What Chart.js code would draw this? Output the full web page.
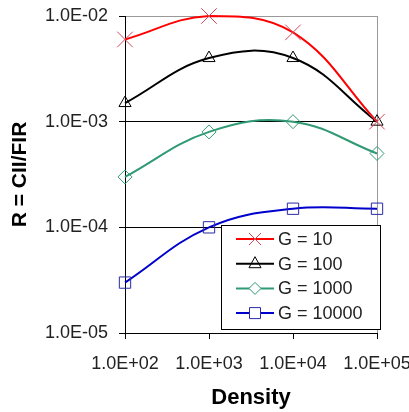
<!DOCTYPE html>
<html lang="en">
<head>
  <meta charset="UTF-8">
  <title>R = CII/FIR vs Density</title>
  <script src="https://cdn.jsdelivr.net/npm/chart.js"></script>
  <style>
    body { margin: 0; background: #fff; }
  </style>
</head>
<body>
  <div style="width: 409px; height: 412px;">
    <canvas id="ratioChart"></canvas>
  </div>

  <script>
    // densities on the x axis
    const density = [1e2, 1e3, 1e4, 1e5];

    // R = CII/FIR for each G value
    const g10 = [6e-3, 1e-2, 7e-3, 1e-3];
    const g100 = [1.5e-3, 4e-3, 4e-3, 1e-3];
    const g1000 = [3e-4, 8e-4, 1e-3, 5e-4];
    const g10000 = [3e-5, 1e-4, 1.5e-4, 1.5e-4];

    const seriesLabels = ['G = 10', 'G = 100', 'G = 1000', 'G = 10000'];

    const xTickValues = [1e2, 1e3, 1e4, 1e5];
    const xTickLabels = ['1.0E+02', '1.0E+03', '1.0E+04', '1.0E+05'];
    const yTickValues = [1e-5, 1e-4, 1e-3, 1e-2];
    const yTickLabels = ['1.0E-05', '1.0E-04', '1.0E-03', '1.0E-02'];

    const font = "'Liberation Sans', Arial, sans-serif";

    function toPoints(ys) {
      return density.map((x, i) => ({ x: x, y: ys[i] }));
    }

    const styles = [
      { line: '#ff0000', mark: '#d2485a', shape: 'crossRot', r: 11 },
      { line: '#000000', mark: '#000000', shape: 'triangle', r: 7 },
      { line: '#2f9a73', mark: '#2f9a73', shape: 'rectRot', r: 7 },
      { line: '#0000cc', mark: '#2a2aa8', shape: 'rect', r: 8 }
    ];

    const datasets = [g10, g100, g1000, g10000].map((ys, i) => ({
      label: seriesLabels[i],
      data: toPoints(ys),
      borderColor: styles[i].line,
      borderWidth: 2,
      tension: 0.4,
      pointStyle: styles[i].shape,
      pointRadius: styles[i].r,
      pointBorderColor: styles[i].mark,
      pointBackgroundColor: 'rgba(0,0,0,0)',
      pointBorderWidth: 1,
      clip: false
    }));

    // legend box drawn inside the plot, like the Excel one
    function drawMarker(ctx, shape, x, y, color) {
      ctx.save();
      ctx.strokeStyle = color;
      ctx.fillStyle = '#fff';
      ctx.lineWidth = 1;
      ctx.beginPath();
      if (shape === 'crossRot') {
        ctx.moveTo(x - 6, y - 6); ctx.lineTo(x + 6, y + 6);
        ctx.moveTo(x + 6, y - 6); ctx.lineTo(x - 6, y + 6);
        ctx.stroke();
      } else if (shape === 'triangle') {
        ctx.moveTo(x, y - 7); ctx.lineTo(x + 6, y + 4); ctx.lineTo(x - 6, y + 4);
        ctx.closePath(); ctx.stroke();
      } else if (shape === 'rectRot') {
        ctx.moveTo(x, y - 6); ctx.lineTo(x + 6, y); ctx.lineTo(x, y + 6); ctx.lineTo(x - 6, y);
        ctx.closePath(); ctx.fill(); ctx.stroke();
      } else {
        ctx.rect(x - 5.5, y - 5.5, 11, 11); ctx.fill(); ctx.stroke();
      }
      ctx.restore();
    }

    const boxLegend = {
      id: 'boxLegend',
      afterDraw(chart) {
        const ctx = chart.ctx;
        const left = 221, top = 225, w = 159, h = 104;
        ctx.save();
        ctx.fillStyle = '#fff';
        ctx.fillRect(left, top, w, h);
        ctx.strokeStyle = '#000';
        ctx.lineWidth = 1;
        ctx.strokeRect(left + 0.5, top + 0.5, w, h);
        ctx.font = '18px ' + font;
        ctx.textBaseline = 'middle';
        chart.data.datasets.forEach((ds, i) => {
          const y = 239 + i * 24.7;
          ctx.strokeStyle = ds.borderColor;
          ctx.lineWidth = 2;
          ctx.beginPath();
          ctx.moveTo(236, y);
          ctx.lineTo(274, y);
          ctx.stroke();
          drawMarker(ctx, ds.pointStyle, 255, y, ds.pointBorderColor);
          ctx.fillStyle = '#222';
          ctx.fillText(ds.label, 278, y + 1);
        });
        ctx.restore();
      }
    };

    new Chart(document.getElementById('ratioChart'), {
      type: 'line',
      data: { datasets: datasets },
      plugins: [boxLegend],
      options: {
        responsive: true,
        maintainAspectRatio: false,
        animation: false,
        layout: { padding: { top: 16, right: 32, bottom: 0, left: 0 } },
        plugins: {
          legend: { display: false },
          tooltip: { enabled: false }
        },
        scales: {
          x: {
            type: 'logarithmic',
            min: 1e2,
            max: 1e5,
            afterBuildTicks: s => { s.ticks = xTickValues.map(v => ({ value: v })); },
            afterFit: s => { s.height = 79; s.paddingLeft = 0; s.paddingRight = 0; },
            border: { color: '#000', width: 1 },
            grid: {
              color: c => (c.index === xTickValues.length - 1 ? '#999' : 'rgba(0,0,0,0)'),
              tickColor: '#000',
              tickLength: 6
            },
            ticks: {
              callback: (v, i) => xTickLabels[i],
              maxRotation: 0,
              autoSkip: false,
              padding: 14,
              color: '#222',
              font: { family: font, size: 18 }
            },
            title: {
              display: true,
              text: 'Density',
              color: '#000',
              padding: { top: 4, bottom: 1 },
              font: { family: font, size: 22, weight: 'bold' }
            }
          },
          y: {
            type: 'logarithmic',
            min: 1e-5,
            max: 1e-2,
            afterBuildTicks: s => { s.ticks = yTickValues.map(v => ({ value: v })); },
            afterFit: s => { s.width = 125; s.paddingTop = 0; s.paddingBottom = 0; },
            border: { color: '#000', width: 1 },
            grid: {
              color: c => (c.index === yTickValues.length - 1 ? '#999' : '#000'),
              tickColor: '#000',
              tickLength: 6
            },
            ticks: {
              callback: (v, i) => yTickLabels[i],
              autoSkip: false,
              padding: 11,
              color: '#222',
              font: { family: font, size: 18 }
            },
            title: {
              display: true,
              text: 'R = CII/FIR',
              color: '#000',
              padding: { top: 8, bottom: 8 },
              font: { family: font, size: 21, weight: 'bold' }
            }
          }
        }
      }
    });
  </script>
</body>
</html>
